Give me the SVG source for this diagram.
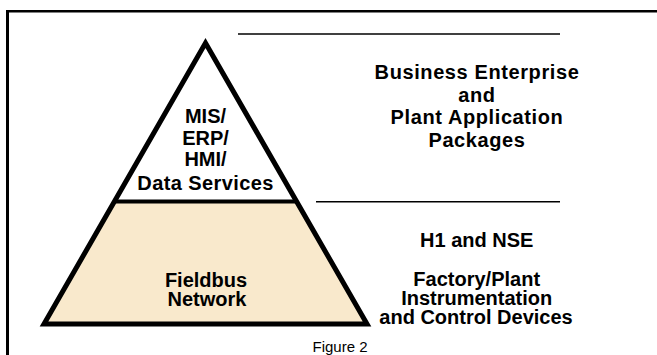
<svg xmlns="http://www.w3.org/2000/svg" width="657" height="355" viewBox="0 0 657 355">
<style>
.t{font-family:"Liberation Sans",Arial,Helvetica,sans-serif;font-weight:bold;font-size:20px;fill:#000;text-anchor:middle}
.cap{font-family:"Liberation Sans",Arial,Helvetica,sans-serif;font-size:15px;fill:#000;text-anchor:middle}
.rule{stroke:#000;stroke-width:1.5;fill:none}
</style>
<rect width="657" height="355" fill="#fff"/>
<g id="frame">
<line x1="7.5" y1="11.2" x2="657" y2="11.2" stroke="#000" stroke-width="2.5"/>
<line x1="7.5" y1="10" x2="7.5" y2="355" stroke="#000" stroke-width="3"/>
</g>
<g id="pyramid-base">
<polygon points="114.7,201.5 296.3,201.5 367,324 44,324" fill="#F9E9CC"/>
</g>
<g id="pyramid-top">
<polygon points="205.5,43 296.3,201.5 114.7,201.5" fill="#fff"/>
</g>
<g id="pyramid-outline">
<polygon points="205.5,43 367,324 44,324" fill="none" stroke="#000" stroke-width="5" stroke-linejoin="miter" stroke-miterlimit="10"/>
<line x1="114" y1="201.5" x2="297" y2="201.5" stroke="#000" stroke-width="4"/>
</g>
<g id="connectors">
<line class="rule" x1="238" y1="34" x2="560" y2="34"/>
<line class="rule" x1="316" y1="201.7" x2="560" y2="201.7"/>
</g>
<g id="top-label">
<text class="t" x="205.5" y="123.3">MIS/</text>
<text class="t" x="205.5" y="144.8">ERP/</text>
<text class="t" x="205.5" y="166.3">HMI/</text>
<text class="t" x="205.5" y="190" letter-spacing="0.4">Data Services</text>
</g>
<g id="base-label">
<text class="t" x="206" y="286.7">Fieldbus</text>
<text class="t" x="207" y="305.7">Network</text>
</g>
<g id="business-label">
<text class="t" x="477" y="79" letter-spacing="0.6">Business Enterprise</text>
<text class="t" x="477" y="101.7" letter-spacing="0.6">and</text>
<text class="t" x="477" y="124.3" letter-spacing="0.6">Plant Application</text>
<text class="t" x="477" y="147" letter-spacing="0.6">Packages</text>
</g>
<g id="field-label">
<text class="t" x="476.7" y="246.7">H1 and NSE</text>
<text class="t" x="476.7" y="286">Factory/Plant</text>
<text class="t" x="476.7" y="305">Instrumentation</text>
<text class="t" x="476" y="324">and Control Devices</text>
</g>
<g id="caption">
<text class="cap" x="340" y="352">Figure 2</text>
</g>
</svg>
